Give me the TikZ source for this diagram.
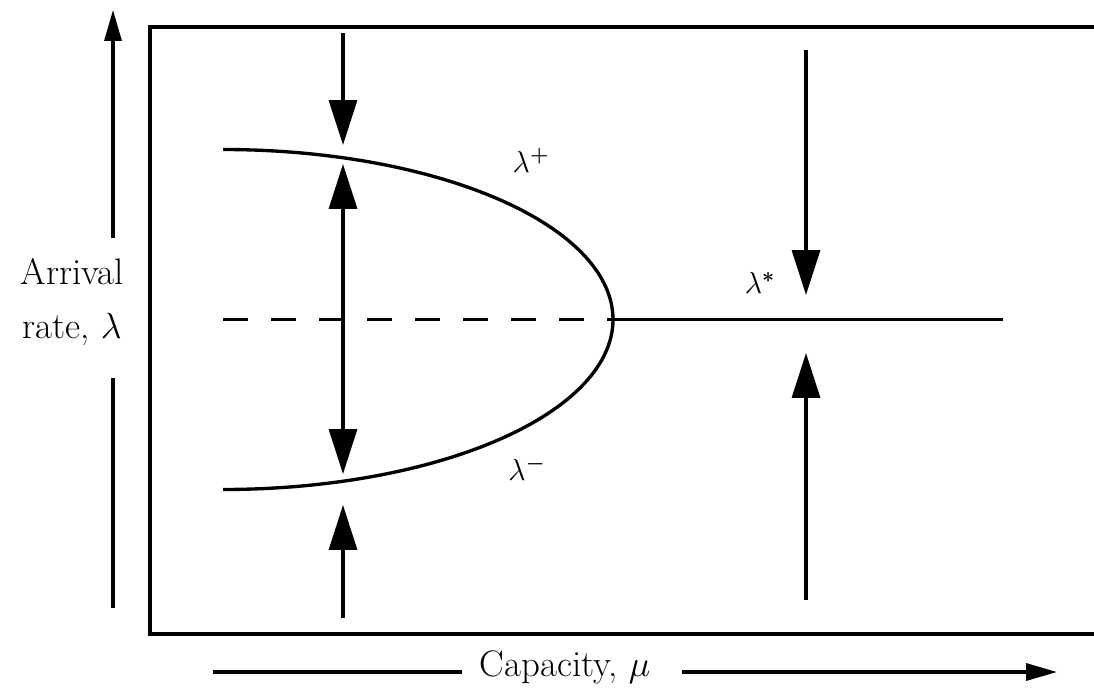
\documentclass[tikz,border=0pt]{standalone}
\usepackage{amsmath}
\usetikzlibrary{calc, positioning}
\usetikzlibrary{arrows.meta}

\begin{document}
\begin{tikzpicture}[x=0.02cm, y=-0.02cm,
  frame/.style={line width=2.5pt},
  flow/.style={line width=1.9pt},
  bigtip/.style={-{Triangle[length=0.9cm, width=0.56cm]}},
  axtip/.style={-{Triangle[length=0.62cm, width=0.34cm]}},
  axlabel/.style={font=\fontsize{21}{31}\selectfont, align=center},
  branch/.style={font=\fontsize{17}{19}\selectfont, inner sep=0pt}]
\useasboundingbox (0,0) rectangle (1094,696);
\def\xc{223}
\def\yc{319.5}

\coordinate (V) at (613,\yc);
\coordinate (L) at (\xc,\yc);
\coordinate (E) at (1003,\yc);

% frame, open on the right
\draw[frame] (1094,27) -- (150,27) -- (150,634) -- (1094,634);

% axes
\node[axlabel] (ylab) at (72,302) {Arrival\\rate, $\lambda$};
\coordinate (Ya) at (113,238);
\coordinate (Yb) at (113,10);
\coordinate (Yc) at (113,378);
\coordinate (Yd) at (113,608);
\draw[flow, axtip] (Ya) -- (Yb);
\draw[flow] (Yc) -- (Yd);

\node[axlabel, anchor=base] (xlab) at (565,676) {Capacity, $\mu$};
\coordinate (Xa) at (213,672);
\coordinate (Xb) at (462,672);
\coordinate (Xc) at (682,672);
\coordinate (Xd) at (1057,672);
\draw[flow] (Xa) -- (Xb);
\draw[flow, axtip] (Xc) -- (Xd);

% branches
\draw[flow, dash pattern=on 0.5cm off 0.46cm] (L) -- (V);
\draw[flow] (V) -- (E);
\draw[flow]
  plot[smooth, samples=120, domain=-90:90]
    ({\xc+390*cos(\x)},{\yc+170*sin(\x)});

% flows on the left
\coordinate (A1) at (343,33);
\coordinate (A2) at (343,145);
\coordinate (B1) at (343,164);
\coordinate (B2) at (343,474);
\coordinate (C1) at (343,618);
\coordinate (C2) at (343,505);
\draw[flow, bigtip] (A1) -- (A2);
\draw[flow, {Triangle[length=0.9cm, width=0.56cm]}-{Triangle[length=0.9cm, width=0.56cm]}] (B1) -- (B2);
\draw[flow, bigtip] (C1) -- (C2);

% flows on the right
\coordinate (D1) at (806,50);
\coordinate (D2) at (806,295);
\coordinate (F1) at (806,600);
\coordinate (F2) at (806,353);
\draw[flow, bigtip] (D1) -- (D2);
\draw[flow, bigtip] (F1) -- (F2);

\node[branch] (lp) at (531,160) {$\lambda^{\boldsymbol{+}}$};
\node[branch] (lm) at (527,468) {$\lambda^{\boldsymbol{-}}$};
\node[branch] (ls) at (760,283) {$\lambda^{\boldsymbol{*}}$};
\end{tikzpicture}
\end{document}
